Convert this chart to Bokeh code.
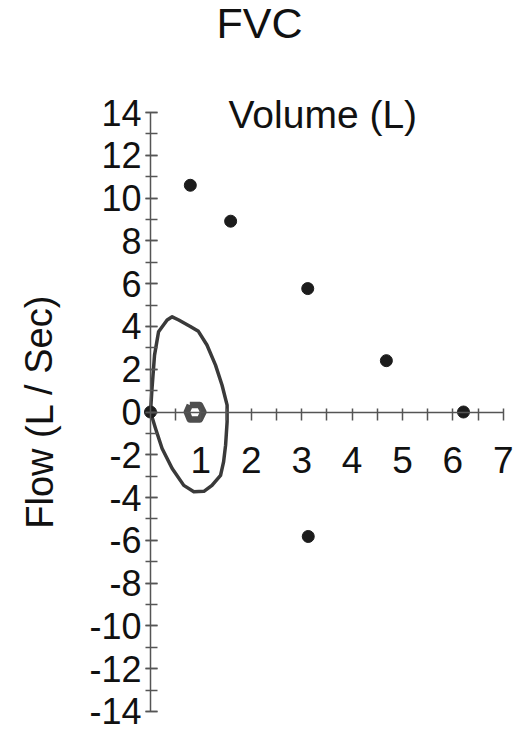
from bokeh.plotting import figure
from bokeh.models import LinearAxis, Range1d, FixedTicker, SingleIntervalTicker, Label, PrintfTickFormatter
from bokeh.embed import file_html
from bokeh.resources import INLINE

# ---- data ----
title_text = "FVC"
x_label = "Volume (L)"
y_label = "Flow (L / Sec)"

x_ticks = [1, 2, 3, 4, 5, 6, 7]
x_minor = [0.5, 1.5, 2.5, 3.5, 4.5, 5.5, 6.5]
y_bounds = (-14, 14)
x_bounds = (0, 7)

# predicted / reference points (volume, flow)
pred_x = [0.0, 0.79, 1.59, 3.12, 4.68, 6.21, 3.13]
pred_y = [0.0, 10.6, 8.92, 5.77, 2.40, 0.0, -5.82]

# measured flow-volume loop
loop_x = [0.0, 0.03, 0.08, 0.16, 0.33, 0.43, 0.56, 0.79, 0.95, 1.12, 1.29, 1.42, 1.52,
          1.52, 1.49, 1.45, 1.39, 1.22, 1.06, 0.86, 0.66, 0.43, 0.23, 0.10, 0.0]
loop_y = [0.0, 1.10, 2.66, 3.75, 4.30, 4.45, 4.30, 4.00, 3.77, 3.13, 2.19, 1.25, 0.32,
          -0.46, -1.55, -2.33, -2.96, -3.43, -3.71, -3.73, -3.43, -2.64, -1.71, -0.77, 0.0]

# small tidal loop
ring_x = [0.78, 0.98, 1.05, 0.98, 0.78, 0.72, 0.78]
ring_y = [0.33, 0.33, 0.0, -0.35, -0.35, 0.0, 0.33]

# ---- layout ----
W, H = 520, 732
X0, SX = 150.0, 50.4      # pixel of x=0, pixels per litre
Y0, SY = 411.5, 21.39     # pixel of y=0, pixels per L/s

p = figure(width=W, height=H, output_backend="svg", toolbar_location=None,
           x_axis_location=None, y_axis_location=None, min_border=0,
           x_range=Range1d(-X0 / SX, (W - X0) / SX),
           y_range=Range1d((Y0 - H) / SY, Y0 / SY))
p.outline_line_color = None
p.grid.visible = False
p.background_fill_color = "white"
p.border_fill_color = "white"

FONT = "Liberation Sans"
TXT = "#111111"
AX = "#555555"

yaxis = LinearAxis(fixed_location=0, bounds=y_bounds,
                   ticker=SingleIntervalTicker(interval=2, num_minor_ticks=2),
                   formatter=PrintfTickFormatter(format="%d"))
yaxis.axis_line_color = AX
yaxis.axis_line_width = 1.5
yaxis.major_tick_line_color = AX
yaxis.minor_tick_line_color = AX
yaxis.major_tick_line_width = 1.5
yaxis.minor_tick_line_width = 1.5
yaxis.major_tick_in = 7
yaxis.major_tick_out = 5
yaxis.minor_tick_in = 7
yaxis.minor_tick_out = 5
yaxis.major_label_standoff = 4
yaxis.major_label_text_font = FONT
yaxis.major_label_text_font_size = "36px"
yaxis.major_label_text_color = TXT
p.add_layout(yaxis, "left")

xaxis = LinearAxis(fixed_location=0, bounds=x_bounds,
                   ticker=FixedTicker(ticks=x_ticks, minor_ticks=x_minor),
                   formatter=PrintfTickFormatter(format="%d"))
xaxis.axis_line_color = AX
xaxis.axis_line_width = 1.5
xaxis.major_tick_line_color = AX
xaxis.minor_tick_line_color = AX
xaxis.major_tick_line_width = 1.5
xaxis.minor_tick_line_width = 1.5
xaxis.major_tick_in = 4
xaxis.major_tick_out = 8
xaxis.minor_tick_in = 4
xaxis.minor_tick_out = 8
xaxis.major_label_standoff = 27
xaxis.major_label_text_font = FONT
xaxis.major_label_text_font_size = "37px"
xaxis.major_label_text_color = TXT
p.add_layout(xaxis, "below")

p.line(loop_x, loop_y, line_color="#3a3a3a", line_width=3.5, line_join="round")
p.line(ring_x, ring_y, line_color="#4e4e4e", line_width=6.5, line_join="round")
p.scatter(pred_x, pred_y, size=12, fill_color="#1c1c1c", line_color="#1c1c1c")

p.add_layout(Label(x=(259 - X0) / SX, y=(Y0 - 22) / SY, text=title_text,
                   text_align="center", text_baseline="alphabetic",
                   text_font=FONT, text_font_size="43px", text_color=TXT))
p.add_layout(Label(x=(228 - X0) / SX, y=(Y0 - 114) / SY, text=x_label,
                   text_align="left", text_baseline="alphabetic",
                   text_font=FONT, text_font_size="39px", text_color=TXT))
p.add_layout(Label(x=(39 - X0) / SX, y=(Y0 - 411) / SY, text=y_label, angle=1.5708,
                   text_align="center", text_baseline="alphabetic",
                   text_font=FONT, text_font_size="38px", text_color=TXT))

open("out.html", "w").write(file_html(p, INLINE))
